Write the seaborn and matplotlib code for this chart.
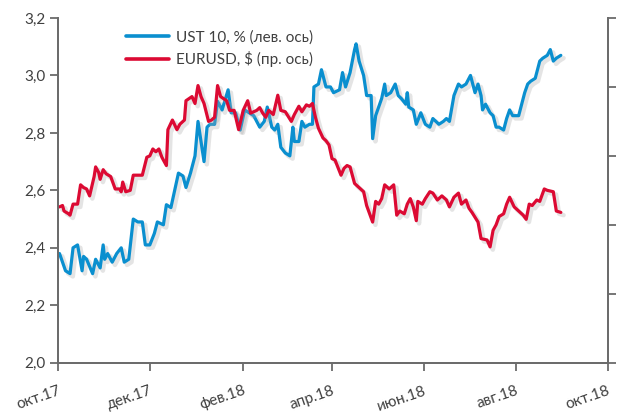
import matplotlib
matplotlib.use("Agg")
import matplotlib.pyplot as plt
import matplotlib.patheffects as pe
from matplotlib.ticker import FuncFormatter, FixedLocator
import seaborn as sns
import pandas as pd

# ---- data ----
start = pd.Timestamp("2017-10-01")

ust_days = [1, 5, 8, 10, 13, 16, 17, 19, 23, 25, 28, 30, 31, 33, 36, 39, 42, 44, 47, 50,
            53, 56, 58, 61, 64, 66, 70, 72, 75, 80, 83, 85, 88, 91, 93, 95, 97, 99, 101, 104,
            106, 109, 113, 115, 118, 121, 124, 127, 130, 134, 137, 139, 142, 144, 146, 148, 151, 154, 156, 157,
            160, 162, 164, 167, 169, 170, 173, 175, 178, 181, 183, 187, 189, 191, 194, 197, 198, 200, 203, 205,
            208, 209, 211, 213, 215, 217, 218, 221, 224, 226, 228, 231, 232, 233, 236, 238, 241, 244, 247, 249,
            253, 256, 258, 260, 263, 266, 268, 271, 274, 276, 277, 279, 281, 282, 284, 287, 289, 291, 293, 296,
            298, 300, 302, 306, 308, 310, 312, 314, 317, 320, 322, 325, 327, 329, 331, 334]
ust_vals = [2.38, 2.32, 2.31, 2.40, 2.41, 2.32, 2.37, 2.36, 2.31, 2.36, 2.33, 2.41, 2.36, 2.38, 2.35, 2.38, 2.40, 2.35, 2.36, 2.50,
            2.49, 2.49, 2.41, 2.41, 2.45, 2.49, 2.48, 2.55, 2.54, 2.66, 2.65, 2.61, 2.66, 2.72, 2.84, 2.77, 2.70, 2.82, 2.83, 2.83,
            2.91, 2.88, 2.95, 2.87, 2.87, 2.81, 2.88, 2.87, 2.86, 2.82, 2.84, 2.89, 2.82, 2.81, 2.83, 2.75, 2.73, 2.72, 2.82, 2.77,
            2.77, 2.84, 2.82, 2.83, 2.83, 2.96, 2.97, 3.02, 2.96, 2.96, 2.94, 2.95, 3.01, 2.96, 3.01, 3.09, 3.11, 3.05, 3.00, 2.93,
            2.93, 2.78, 2.86, 2.89, 2.92, 2.97, 2.93, 2.94, 2.97, 2.93, 2.92, 2.90, 2.94, 2.89, 2.88, 2.83, 2.87, 2.83, 2.82, 2.85,
            2.83, 2.84, 2.85, 2.84, 2.93, 2.97, 2.96, 2.97, 3.00, 2.96, 2.94, 2.97, 2.93, 2.88, 2.90, 2.87, 2.86, 2.82, 2.82, 2.81,
            2.85, 2.88, 2.86, 2.86, 2.90, 2.94, 2.97, 2.98, 2.99, 3.05, 3.06, 3.07, 3.09, 3.05, 3.06, 3.07]

eur_days = [1, 3, 4, 7, 8, 10, 13, 15, 17, 19, 21, 24, 25, 27, 28, 30, 32, 35, 38, 41,
            42, 43, 45, 48, 50, 53, 56, 59, 61, 63, 65, 67, 69, 72, 73, 76, 79, 81, 84, 85,
            89, 91, 93, 95, 97, 100, 102, 104, 106, 108, 112, 114, 117, 120, 123, 126, 128, 132, 134, 136,
            138, 140, 143, 146, 148, 151, 155, 157, 160, 162, 165, 167, 169, 171, 173, 176, 178, 180, 182, 184,
            188, 190, 192, 194, 197, 200, 203, 205, 209, 211, 213, 215, 217, 220, 223, 225, 227, 230, 232, 234,
            236, 238, 239, 242, 244, 247, 249, 252, 255, 258, 260, 263, 266, 268, 271, 273, 275, 279, 281, 285,
            287, 289, 291, 293, 296, 298, 300, 303, 307, 309, 311, 313, 315, 318, 320, 323, 325, 329, 331, 334]
eur_vals = [1.163, 1.164, 1.160, 1.158, 1.157, 1.165, 1.165, 1.179, 1.177, 1.176, 1.171, 1.185, 1.192, 1.188, 1.183, 1.190, 1.187, 1.185, 1.176, 1.176,
            1.174, 1.181, 1.174, 1.175, 1.186, 1.186, 1.186, 1.199, 1.200, 1.205, 1.203, 1.205, 1.199, 1.193, 1.219, 1.226, 1.219, 1.223, 1.226, 1.240,
            1.243, 1.238, 1.251, 1.243, 1.238, 1.225, 1.226, 1.228, 1.251, 1.243, 1.240, 1.233, 1.233, 1.219, 1.233, 1.240, 1.231, 1.233, 1.235, 1.231,
            1.228, 1.233, 1.230, 1.244, 1.233, 1.232, 1.225, 1.230, 1.236, 1.232, 1.237, 1.236, 1.238, 1.228, 1.220, 1.213, 1.211, 1.208, 1.198, 1.197,
            1.186, 1.191, 1.193, 1.192, 1.180, 1.177, 1.174, 1.164, 1.152, 1.167, 1.165, 1.169, 1.179, 1.176, 1.179, 1.157, 1.160, 1.158, 1.165, 1.169,
            1.163, 1.153, 1.167, 1.165, 1.169, 1.174, 1.173, 1.168, 1.171, 1.168, 1.163, 1.170, 1.173, 1.165, 1.168, 1.162, 1.159, 1.152, 1.140, 1.139,
            1.134, 1.146, 1.150, 1.156, 1.158, 1.165, 1.170, 1.163, 1.159, 1.157, 1.154, 1.165, 1.164, 1.168, 1.167, 1.176, 1.175, 1.174, 1.160, 1.159]

x_tick_dates = ["2017-10-01", "2017-12-01", "2018-02-01", "2018-04-01", "2018-06-01", "2018-08-01", "2018-10-01"]
x_tick_labels = ["окт.17", "дек.17", "фев.18", "апр.18", "июн.18", "авг.18", "окт.18"]
left_ticks = [2.0, 2.2, 2.4, 2.6, 2.8, 3.0, 3.2]
right_ticks = [1.05, 1.10, 1.15, 1.20, 1.25, 1.30]
labels = ["UST 10, % (лев. ось)", "EURUSD, $ (пр. ось)"]

ust = pd.DataFrame({"date": start + pd.to_timedelta(ust_days, unit="D"), "value": ust_vals})
eur = pd.DataFrame({"date": start + pd.to_timedelta(eur_days, unit="D"), "value": eur_vals})

# ---- style ----
sns.set_style("white")
plt.rcParams["font.family"] = ["Lato", "DejaVu Sans"]

BLUE = "#0A8FCF"
RED = "#DC0A33"
SPINE = "#6B6B6B"
TEXT = "#404040"

fig = plt.figure(figsize=(6.19, 4.12), dpi=100)
ax = fig.add_axes([58 / 619, 1 - 362.7 / 412, (607.5 - 58) / 619, (362.7 - 18) / 412])
ax2 = ax.twinx()

shadow = [pe.SimpleLineShadow(offset=(2.0, -2.0), shadow_color="#a8a8a8", alpha=0.3, linewidth=3.2), pe.Normal()]

sns.lineplot(data=ust, x="date", y="value", ax=ax, color=BLUE, linewidth=2.3, label=labels[0], legend=False)
sns.lineplot(data=eur, x="date", y="value", ax=ax2, color=RED, linewidth=2.3, label=labels[1], legend=False)
for a in (ax, ax2):
    for ln in a.get_lines():
        ln.set_path_effects(shadow)
        ln.set_solid_joinstyle("round")

ax.set_xlim(pd.Timestamp("2017-10-01"), pd.Timestamp("2018-10-01"))
ax.set_ylim(2.0, 3.2)
ax2.set_ylim(1.05, 1.30)

ax.xaxis.set_major_locator(FixedLocator([matplotlib.dates.date2num(pd.Timestamp(d)) for d in x_tick_dates]))
ax.set_xticklabels(x_tick_labels, rotation=19, ha="right", va="top", rotation_mode="anchor",
                   color=TEXT, fontsize=11)
ax.set_yticks(left_ticks)
ax.yaxis.set_major_formatter(FuncFormatter(lambda v, p: f"{v:.1f}".replace(".", ",")))
ax2.set_yticks(right_ticks)
ax2.set_yticklabels([])

ax.set_xlabel("")
ax.set_ylabel("")
ax2.set_ylabel("")

for a in (ax, ax2):
    for s in a.spines.values():
        s.set_color(SPINE)
        s.set_linewidth(1.3)
    a.spines["top"].set_visible(False)

ax.tick_params(axis="y", which="major", direction="out", length=6, width=1.3, color=SPINE,
               labelsize=11, labelcolor=TEXT, left=True, pad=3)
ax.tick_params(axis="x", which="major", direction="out", length=6, width=1.3, color=SPINE,
               bottom=True, pad=9)
ax2.tick_params(axis="y", which="major", direction="out", length=6, width=1.3, color=SPINE, right=True)

handles = ax.get_lines()[:1] + ax2.get_lines()[:1]
leg = ax.legend(handles, labels, loc="upper left", bbox_to_anchor=(126 / 619, 1 - 30 / 412),
                bbox_transform=fig.transFigure, frameon=False, fontsize=11, handlelength=2.8,
                handletextpad=0.5, labelspacing=0.45, borderpad=0, borderaxespad=0)
for t in leg.get_texts():
    t.set_color(TEXT)
for h in leg.get_lines():
    h.set_path_effects([])
    h.set_linewidth(2.6)

fig.savefig("out.png", dpi=100)
